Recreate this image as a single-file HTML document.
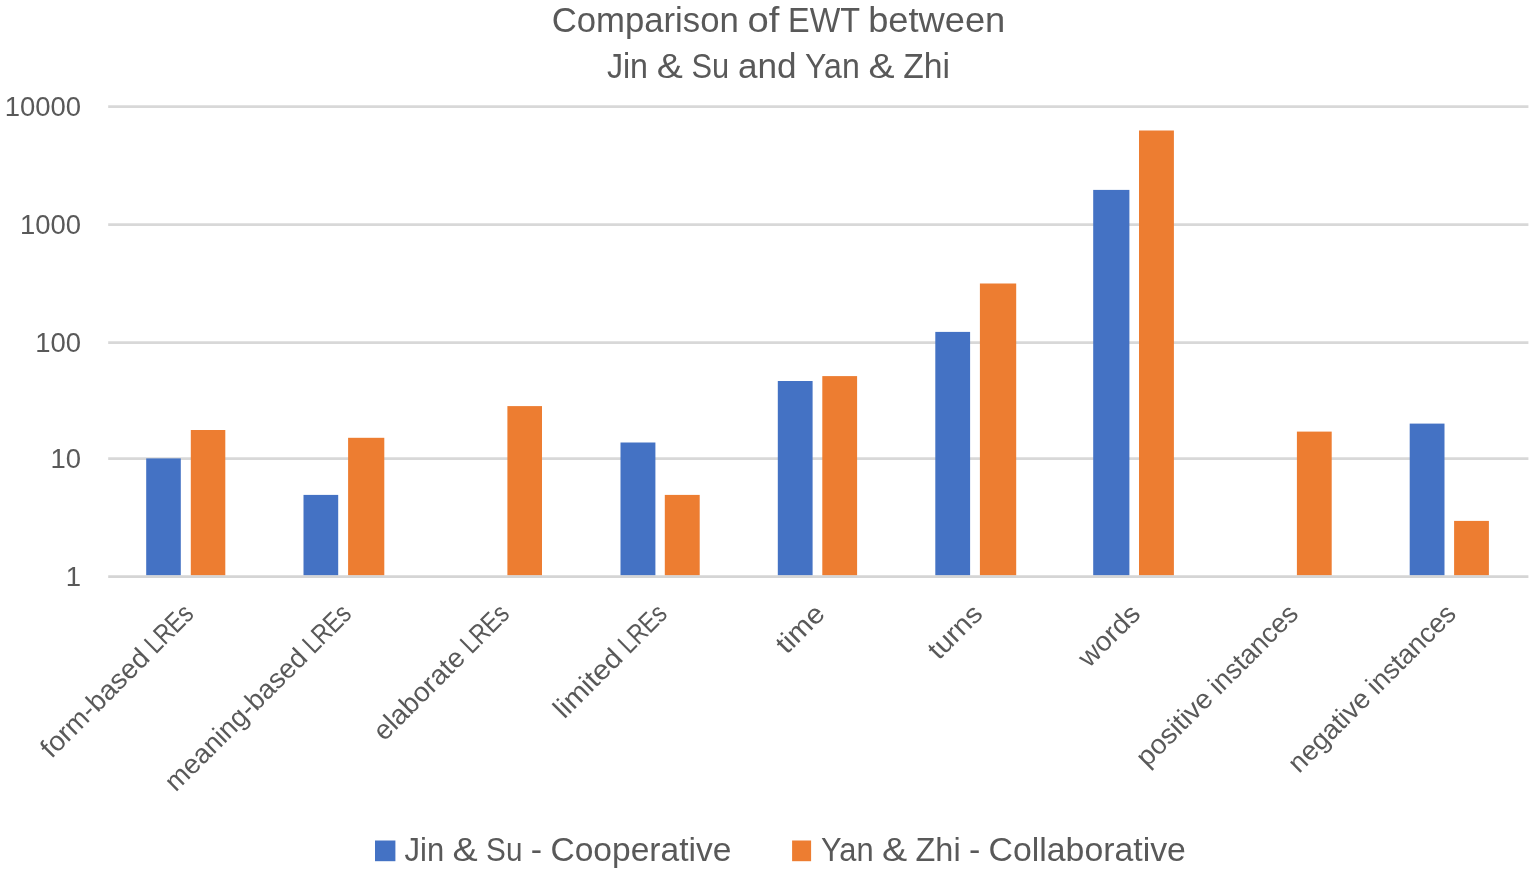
<!DOCTYPE html>
<html lang="en">
<head>
<meta charset="utf-8">
<title>Comparison of EWT between Jin &amp; Su and Yan &amp; Zhi</title>
<style>
html,body{margin:0;padding:0;background:#ffffff;}
body{width:1535px;height:875px;overflow:hidden;font-family:"Liberation Sans",sans-serif;}
svg{display:block;}
svg text{font-family:"Liberation Sans",sans-serif;fill:#595959;}
</style>
</head>
<body>
<svg role="img" aria-label="Comparison of EWT between Jin &amp; Su and Yan &amp; Zhi" width="1535" height="875" viewBox="0 0 1535 875">
<rect x="0" y="0" width="1535" height="875" fill="#ffffff"/>
<g stroke="#d8d8d8" stroke-width="2.8" fill="none">
<line x1="108.2" y1="106.7" x2="1528.4" y2="106.7"/>
<line x1="108.2" y1="224.6" x2="1528.4" y2="224.6"/>
<line x1="108.2" y1="342.6" x2="1528.4" y2="342.6"/>
<line x1="108.2" y1="458.6" x2="1528.4" y2="458.6"/>
</g>
<g>
<rect x="146.2" y="458.4" width="34.6" height="117.1" fill="#4472c4"/>
<rect x="190.8" y="430.0" width="34.5" height="145.5" fill="#ed7d31"/>
<rect x="303.5" y="494.9" width="34.7" height="80.6" fill="#4472c4"/>
<rect x="348.1" y="437.8" width="36.2" height="137.7" fill="#ed7d31"/>
<rect x="507.4" y="406.1" width="34.6" height="169.4" fill="#ed7d31"/>
<rect x="620.5" y="442.5" width="34.9" height="133.0" fill="#4472c4"/>
<rect x="664.8" y="494.9" width="34.9" height="80.6" fill="#ed7d31"/>
<rect x="777.8" y="381.0" width="34.8" height="194.5" fill="#4472c4"/>
<rect x="822.3" y="376.1" width="34.8" height="199.4" fill="#ed7d31"/>
<rect x="935.3" y="331.9" width="34.8" height="243.6" fill="#4472c4"/>
<rect x="979.9" y="283.5" width="36.3" height="292.0" fill="#ed7d31"/>
<rect x="1093.2" y="189.9" width="36.2" height="385.6" fill="#4472c4"/>
<rect x="1139.0" y="130.5" width="34.9" height="445.0" fill="#ed7d31"/>
<rect x="1296.9" y="431.6" width="34.8" height="143.9" fill="#ed7d31"/>
<rect x="1409.7" y="423.6" width="34.8" height="151.9" fill="#4472c4"/>
<rect x="1454.1" y="520.9" width="34.8" height="54.6" fill="#ed7d31"/>
</g>
<line x1="108.2" y1="576.6" x2="1528.4" y2="576.6" stroke="#d5d5d5" stroke-width="2.8"/>
<g font-size="35.3">
<text y="32.0"><tspan x="551.7" textLength="187.1" lengthAdjust="spacingAndGlyphs">Comparison</tspan> <tspan x="747.5" textLength="31.9" lengthAdjust="spacingAndGlyphs">of</tspan> <tspan x="788.1" textLength="71.4" lengthAdjust="spacingAndGlyphs">EWT</tspan> <tspan x="868.2" textLength="137.1" lengthAdjust="spacingAndGlyphs">between</tspan></text>
<text y="78.3"><tspan x="606.9" textLength="41.1" lengthAdjust="spacingAndGlyphs">Jin</tspan> <tspan x="656.7" textLength="26.1" lengthAdjust="spacingAndGlyphs">&amp;</tspan> <tspan x="691.5" textLength="37.7" lengthAdjust="spacingAndGlyphs">Su</tspan> <tspan x="737.9" textLength="58.6" lengthAdjust="spacingAndGlyphs">and</tspan> <tspan x="805.1" textLength="54.6" lengthAdjust="spacingAndGlyphs">Yan</tspan> <tspan x="868.4" textLength="26.1" lengthAdjust="spacingAndGlyphs">&amp;</tspan> <tspan x="903.2" textLength="46.8" lengthAdjust="spacingAndGlyphs">Zhi</tspan></text>
</g>
<g font-size="28.4" text-anchor="end">
<text x="81.0" y="116.0" textLength="76.3" lengthAdjust="spacingAndGlyphs">10000</text>
<text x="81.0" y="233.9" textLength="61.0" lengthAdjust="spacingAndGlyphs">1000</text>
<text x="81.0" y="351.9" textLength="45.8" lengthAdjust="spacingAndGlyphs">100</text>
<text x="81.0" y="467.9" textLength="30.5" lengthAdjust="spacingAndGlyphs">10</text>
<text x="81.0" y="585.9" textLength="15.3" lengthAdjust="spacingAndGlyphs">1</text>
</g>
<g font-size="27.5">
<text transform="translate(195.1,615.5) rotate(-45)" y="0"><tspan x="-203.2" textLength="141.0" lengthAdjust="spacingAndGlyphs">form-based</tspan> <tspan x="-55.5" textLength="55.5" lengthAdjust="spacingAndGlyphs">LREs</tspan></text>
<text transform="translate(352.9,615.5) rotate(-45)" y="0"><tspan x="-250.4" textLength="188.2" lengthAdjust="spacingAndGlyphs">meaning-based</tspan> <tspan x="-55.5" textLength="55.5" lengthAdjust="spacingAndGlyphs">LREs</tspan></text>
<text transform="translate(510.7,615.5) rotate(-45)" y="0"><tspan x="-179.0" textLength="116.7" lengthAdjust="spacingAndGlyphs">elaborate</tspan> <tspan x="-55.5" textLength="55.5" lengthAdjust="spacingAndGlyphs">LREs</tspan></text>
<text transform="translate(668.5,615.5) rotate(-45)" y="0"><tspan x="-147.6" textLength="85.3" lengthAdjust="spacingAndGlyphs">limited</tspan> <tspan x="-55.5" textLength="55.5" lengthAdjust="spacingAndGlyphs">LREs</tspan></text>
<text transform="translate(826.3,615.5) rotate(-45)" y="0"><tspan x="-55.8" textLength="55.8" lengthAdjust="spacingAndGlyphs">time</tspan></text>
<text transform="translate(984.1,615.5) rotate(-45)" y="0"><tspan x="-64.0" textLength="64.0" lengthAdjust="spacingAndGlyphs">turns</tspan></text>
<text transform="translate(1141.9,615.5) rotate(-45)" y="0"><tspan x="-74.8" textLength="74.8" lengthAdjust="spacingAndGlyphs">words</tspan></text>
<text transform="translate(1299.7,615.5) rotate(-45)" y="0"><tspan x="-215.8" textLength="95.4" lengthAdjust="spacingAndGlyphs">positive</tspan> <tspan x="-113.6" textLength="113.6" lengthAdjust="spacingAndGlyphs">instances</tspan></text>
<text transform="translate(1457.5,615.5) rotate(-45)" y="0"><tspan x="-224.0" textLength="103.6" lengthAdjust="spacingAndGlyphs">negative</tspan> <tspan x="-113.6" textLength="113.6" lengthAdjust="spacingAndGlyphs">instances</tspan></text>
</g>
<rect x="375" y="840.5" width="20.4" height="20.7" fill="#4472c4"/>
<rect x="792.1" y="840.5" width="19" height="20.7" fill="#ed7d31"/>
<g font-size="34.0">
<text y="861.0"><tspan x="404.6" textLength="39.6" lengthAdjust="spacingAndGlyphs">Jin</tspan> <tspan x="452.6" textLength="25.2" lengthAdjust="spacingAndGlyphs">&amp;</tspan> <tspan x="486.1" textLength="36.3" lengthAdjust="spacingAndGlyphs">Su</tspan> <tspan x="530.8" textLength="11.3" lengthAdjust="spacingAndGlyphs">-</tspan> <tspan x="550.4" textLength="181.0" lengthAdjust="spacingAndGlyphs">Cooperative</tspan></text>
<text y="861.0"><tspan x="821.0" textLength="52.6" lengthAdjust="spacingAndGlyphs">Yan</tspan> <tspan x="882.0" textLength="25.2" lengthAdjust="spacingAndGlyphs">&amp;</tspan> <tspan x="915.5" textLength="45.1" lengthAdjust="spacingAndGlyphs">Zhi</tspan> <tspan x="969.0" textLength="11.3" lengthAdjust="spacingAndGlyphs">-</tspan> <tspan x="988.6" textLength="197.3" lengthAdjust="spacingAndGlyphs">Collaborative</tspan></text>
</g>
</svg>
</body>
</html>
